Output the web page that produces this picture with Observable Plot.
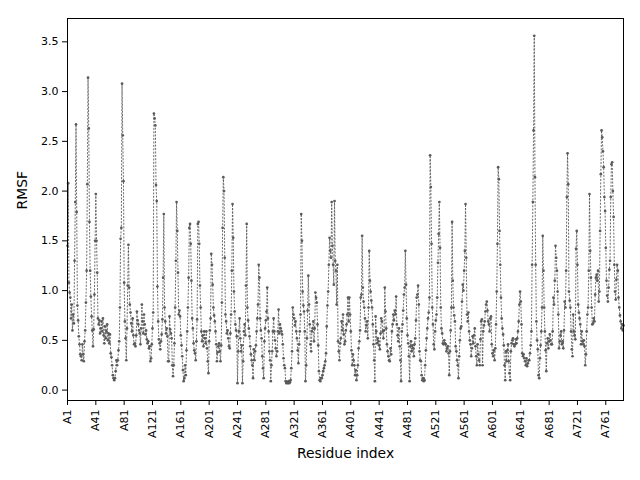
<!DOCTYPE html>
<html>
<head>
<meta charset="utf-8">
<script src="https://cdn.jsdelivr.net/npm/d3@7"></script>
<script src="https://cdn.jsdelivr.net/npm/@observablehq/plot@0.6"></script>
<style>
  html, body { margin: 0; padding: 0; background: #fff; }
  #chart { width: 640px; height: 480px; }
</style>
</head>
<body>
<div id="chart"></div>
<script>
// RMSF per residue (index 0 = residue A1)
const rmsf = [
  1.45, 2.08, 1.08, 0.98, 0.93, 0.72, 0.86, 0.60, 0.76, 0.67,
  1.30, 1.89, 2.67, 1.79, 0.85, 0.70, 0.54, 0.46, 0.36, 0.34,
  0.30, 0.46, 0.36, 0.29, 0.49, 0.60, 0.88, 1.20, 2.07, 3.14,
  2.63, 1.69, 1.20, 0.94, 0.74, 0.60, 0.44, 0.61, 0.96, 1.50,
  1.97, 1.50, 1.18, 0.72, 0.66, 0.70, 0.57, 0.62, 0.69, 0.59,
  0.72, 0.55, 0.47, 0.64, 0.52, 0.59, 0.66, 0.50, 0.57, 0.47,
  0.56, 0.37, 0.33, 0.25, 0.15, 0.12, 0.10, 0.12, 0.19, 0.30,
  0.25, 0.30, 0.40, 0.49, 0.83, 1.52, 1.63, 3.08, 2.56, 2.10,
  1.08, 0.69, 0.52, 0.30, 0.62, 1.05, 1.46, 1.03, 0.86, 0.78,
  0.67, 0.59, 0.72, 0.55, 0.46, 0.47, 0.44, 0.55, 0.79, 0.70,
  0.66, 0.60, 0.57, 0.46, 0.62, 0.86, 0.69, 0.57, 0.76, 0.66,
  0.56, 0.60, 0.51, 0.47, 0.49, 0.42, 0.44, 0.29, 0.32, 0.46,
  0.62, 0.78, 2.78, 2.73, 2.66, 2.06, 1.90, 1.04, 0.69, 0.51,
  0.47, 0.41, 0.49, 0.56, 0.71, 1.13, 1.77, 0.83, 0.69, 0.57,
  0.62, 0.54, 0.29, 0.29, 0.74, 0.61, 0.57, 0.52, 0.25, 0.14,
  0.25, 0.47, 0.83, 1.30, 1.89, 1.60, 1.18, 0.76, 0.80, 0.74,
  0.55, 0.45, 0.34, 0.20, 0.09, 0.12, 0.25, 0.15, 0.40, 0.59,
  0.83, 1.13, 1.63, 1.67, 1.47, 1.10, 0.72, 0.62, 0.47, 0.40,
  0.37, 0.30, 0.49, 0.71, 1.67, 1.69, 1.47, 1.05, 0.83, 0.59,
  0.49, 0.55, 0.44, 0.59, 0.52, 0.47, 0.59, 0.42, 0.29, 0.17,
  0.49, 0.60, 0.72, 1.37, 1.26, 1.06, 0.83, 0.75, 0.69, 0.59,
  0.46, 0.29, 0.38, 0.44, 0.47, 0.39, 0.29, 0.45, 0.88, 1.63,
  2.14, 2.00, 1.33, 0.76, 0.69, 0.57, 0.60, 0.52, 0.44, 0.42,
  0.57, 0.76, 1.20, 1.87, 1.53, 0.99, 0.79, 0.66, 0.60, 0.54,
  0.07, 0.39, 0.59, 0.72, 0.52, 0.39, 0.45, 0.07, 0.29, 0.59,
  0.66, 0.55, 1.05, 1.67, 0.83, 0.70, 0.62, 0.54, 0.44, 0.36,
  0.30, 0.25, 0.12, 0.41, 0.30, 0.39, 0.45, 0.59, 0.72, 0.86,
  1.26, 1.13, 0.72, 0.60, 0.52, 0.34, 0.22, 0.12, 0.49, 0.62,
  0.70, 0.79, 1.03, 0.72, 0.59, 0.39, 0.30, 0.09, 0.25, 0.39,
  0.59, 0.72, 0.59, 0.50, 0.42, 0.34, 0.39, 0.59, 0.81, 0.57,
  0.66, 0.62, 0.59, 0.56, 0.46, 0.32, 0.25, 0.22, 0.09, 0.07,
  0.08, 0.07, 0.09, 0.07, 0.08, 0.10, 0.22, 0.39, 0.83, 0.76,
  0.72, 0.65, 0.69, 0.59, 0.52, 0.40, 0.27, 0.46, 0.59, 0.76,
  1.77, 1.50, 0.99, 0.85, 0.79, 0.59, 0.09, 0.25, 0.52, 0.80,
  1.15, 0.86, 0.66, 0.46, 0.39, 0.59, 0.62, 0.69, 0.49, 0.62,
  0.98, 0.93, 0.88, 0.66, 0.45, 0.19, 0.10, 0.09, 0.12, 0.12,
  0.15, 0.19, 0.22, 0.25, 0.29, 0.37, 0.64, 0.85, 0.99, 1.26,
  1.53, 1.40, 1.33, 1.89, 1.45, 1.26, 1.06, 1.90, 1.30, 1.20,
  0.86, 1.26, 0.49, 0.39, 0.30, 0.47, 0.52, 0.69, 0.60, 0.76,
  0.56, 0.46, 0.49, 0.60, 0.66, 0.76, 0.93, 0.69, 0.93, 0.76,
  0.59, 0.40, 0.25, 0.36, 0.30, 0.25, 0.15, 0.20, 0.10, 0.15,
  0.25, 0.42, 0.49, 0.60, 0.93, 0.96, 1.55, 1.03, 0.89, 0.83,
  0.72, 0.59, 0.65, 0.69, 0.52, 0.83, 1.40, 1.10, 0.99, 0.90,
  0.83, 0.66, 0.46, 0.30, 0.09, 0.74, 0.59, 0.47, 0.52, 0.49,
  0.45, 0.41, 0.57, 0.72, 0.69, 0.59, 0.52, 0.60, 1.03, 0.79,
  0.62, 0.46, 0.39, 0.34, 0.30, 0.29, 0.42, 0.36, 0.59, 0.66,
  0.76, 0.70, 0.80, 0.76, 0.94, 0.66, 0.55, 0.49, 0.62, 0.44,
  0.30, 0.09, 0.59, 0.66, 0.80, 0.96, 1.03, 1.40, 1.06, 0.72,
  0.55, 0.47, 0.34, 0.09, 0.44, 0.49, 0.39, 0.45, 0.42, 0.34,
  0.46, 0.52, 0.70, 0.93, 0.96, 1.05, 0.86, 0.39, 0.30, 0.29,
  0.15, 0.10, 0.12, 0.09, 0.10, 0.25, 0.40, 0.52, 0.62, 0.72,
  0.78, 0.93, 2.36, 2.04, 1.47, 0.83, 0.66, 0.46, 0.41, 0.59,
  0.70, 0.76, 0.93, 1.28, 1.57, 1.89, 1.43, 0.83, 0.62, 0.57,
  0.47, 0.46, 0.50, 0.47, 0.46, 0.39, 0.42, 0.44, 0.37, 0.15,
  0.39, 0.60, 0.83, 1.69, 1.10, 0.83, 0.75, 0.69, 0.44, 0.39,
  0.30, 0.25, 0.12, 0.34, 0.50, 0.62, 0.64, 0.89, 1.06, 1.00,
  1.20, 1.40, 1.87, 1.33, 0.76, 0.69, 0.78, 0.59, 0.50, 0.46,
  0.34, 0.42, 0.54, 0.47, 0.55, 0.62, 0.44, 0.34, 0.25, 0.46,
  0.36, 0.30, 0.25, 0.51, 0.69, 0.71, 0.25, 0.59, 0.65, 0.69,
  0.79, 0.86, 0.89, 0.80, 0.69, 0.66, 0.59, 0.72, 0.74, 0.46,
  0.37, 0.34, 0.40, 0.30, 0.42, 0.66, 0.99, 1.47, 2.24, 2.12,
  1.60, 1.26, 0.93, 0.72, 0.62, 0.56, 0.45, 0.25, 0.10, 0.39,
  0.29, 0.40, 0.46, 0.29, 0.17, 0.10, 0.39, 0.47, 0.50, 0.52,
  0.46, 0.44, 0.46, 0.51, 0.47, 0.52, 0.59, 0.69, 0.86, 0.99,
  0.89, 0.66, 0.37, 0.34, 0.36, 0.32, 0.29, 0.25, 0.32, 0.24,
  0.27, 0.30, 0.30, 0.37, 0.45, 0.59, 1.26, 1.89, 2.61, 3.56,
  2.14, 1.26, 0.69, 0.50, 0.41, 0.15, 0.12, 0.32, 0.45, 0.59,
  0.83, 1.55, 1.20, 0.83, 0.59, 0.40, 0.19, 0.47, 0.52, 0.42,
  0.49, 0.56, 0.50, 0.46, 0.46, 0.59, 0.93, 0.86, 1.10, 1.45,
  1.33, 1.20, 0.99, 0.76, 0.42, 0.49, 0.55, 0.59, 0.46, 0.49,
  0.42, 0.60, 0.89, 0.83, 1.20, 1.94, 2.38, 2.07, 0.99, 0.90,
  0.83, 0.59, 0.41, 0.34, 0.76, 0.59, 0.55, 0.51, 1.42, 1.60,
  1.26, 0.86, 0.78, 0.72, 0.66, 0.46, 0.59, 0.49, 0.46, 0.50,
  0.44, 0.25, 0.36, 0.59, 0.76, 0.83, 1.20, 1.97, 1.40, 1.13,
  0.83, 0.66, 0.67, 0.72, 0.69, 0.96, 1.13, 1.16, 1.10, 1.20,
  0.89, 0.99, 1.60, 2.17, 2.61, 2.54, 2.40, 2.24, 1.94, 1.80,
  1.43, 1.10, 0.95, 0.89, 1.03, 1.21, 1.30, 1.94, 2.27, 2.29,
  2.00, 1.74, 1.26, 0.99, 0.91, 1.11, 1.26, 1.20, 0.93, 0.83,
  0.75, 0.69, 0.62, 0.66, 0.60, 0.65
];

// residue labels (categories), one per value
const residues = rmsf.map((_, i) => "A" + (i + 1));

// tick positions (residue index) and labels
const xTicks = [0, 40, 80, 120, 160, 200, 240, 280, 320, 360, 400, 440, 480, 520, 560, 600, 640, 680, 720, 760];
const xTickLabels = ["A1", "A41", "A81", "A121", "A161", "A201", "A241", "A281", "A321", "A361",
                     "A401", "A441", "A481", "A521", "A561", "A601", "A641", "A681", "A721", "A761"];
const yTicks = [0.0, 0.5, 1.0, 1.5, 2.0, 2.5, 3.0, 3.5];

const data = rmsf.map((v, i) => ({ i, residue: residues[i], v }));

const color = "#5a5a5a";
const ymin = d3.min(rmsf), ymax = d3.max(rmsf);
const pad = (ymax - ymin) * 0.05;

const chart = Plot.plot({
  width: 640,
  height: 480,
  marginLeft: 67,
  marginRight: 17,
  marginTop: 18,
  marginBottom: 80,
  style: { fontFamily: "DejaVu Sans", fontSize: "11px", color: "black", background: "white" },
  x: { domain: [0, rmsf.length - 1] },
  y: { domain: [ymin - pad, ymax + pad] },
  marks: [
    Plot.line(data, { x: "i", y: "v", stroke: color, strokeWidth: 0.9, strokeDasharray: "1.2,2.2" }),
    Plot.dot(data, { x: "i", y: "v", r: 1.35, fill: color, stroke: "none" }),
    Plot.frame({ stroke: "black", strokeWidth: 1 }),
    Plot.axisX({
      ticks: xTicks,
      tickFormat: (d) => xTickLabels[xTicks.indexOf(d)],
      tickRotate: -90,
      tickSize: 5,
      tickPadding: 4,
      label: null,
      stroke: "black"
    }),
    Plot.axisY({
      ticks: yTicks,
      tickFormat: d3.format(".1f"),
      tickSize: 5,
      tickPadding: 4,
      label: null,
      stroke: "black"
    }),
    Plot.text(["Residue index"], { frameAnchor: "bottom", dy: 57, fontSize: 13.9, fill: "black" }),
    Plot.text(["RMSF"], { frameAnchor: "left", dx: -45, rotate: -90, fontSize: 13.9, fill: "black" })
  ]
});

document.getElementById("chart").appendChild(chart);
</script>
</body>
</html>
